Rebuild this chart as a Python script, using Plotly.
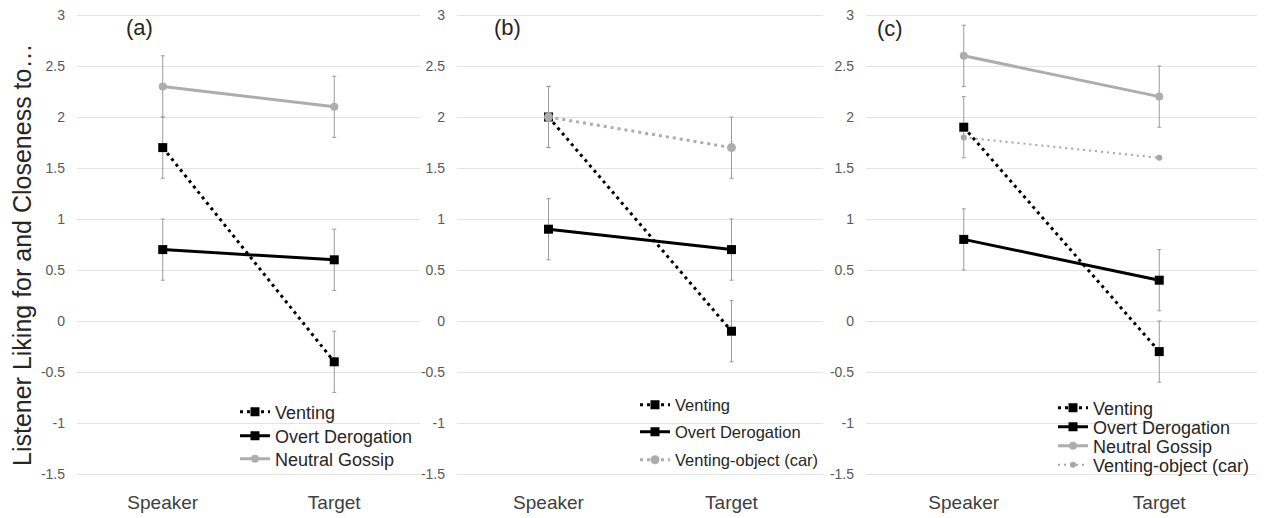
import plotly.graph_objects as go

W, H = 1265, 518
OFF = 8  # page body margin of the html page

categories = ["Speaker", "Target"]
ytick_vals = [-1.5, -1, -0.5, 0, 0.5, 1, 1.5, 2, 2.5, 3]
ytick_text = ["-1.5", "-1", "-0.5", "0", "0.5", "1", "1.5", "2", "2.5", "3"]

# Panel (a)
a_venting = [1.7, -0.4]
a_venting_err = [0.3, 0.3]
a_overt = [0.7, 0.6]
a_overt_err = [0.3, 0.3]
a_neutral = [2.3, 2.1]
a_neutral_err = [0.3, 0.3]

# Panel (b)
b_venting = [2.0, -0.1]
b_venting_err = [0.3, 0.3]
b_overt = [0.9, 0.7]
b_overt_err = [0.3, 0.3]
b_object = [2.0, 1.7]
b_object_err = [0.3, 0.3]

# Panel (c)
c_venting = [1.9, -0.3]
c_venting_err = [0.3, 0.3]
c_overt = [0.8, 0.4]
c_overt_err = [0.3, 0.3]
c_neutral = [2.6, 2.2]
c_neutral_err = [0.3, 0.3]
c_object = [1.8, 1.6]

panel_labels = ["(a)", "(b)", "(c)"]
y_title = "Listener Liking for and Closeness to…"

FONT = "Liberation Sans, Arial, sans-serif"
BLACK = "#000000"
GRAY = "#ADADAD"
ERR = "#9a9a9a"
TXT = "#262626"


def px_x(p):
    return (p - OFF) / W


def px_y(p):
    return 1 - (p - OFF) / H


# layout geometry (page pixels)
y_top_px, y_bot_px = 15, 474
yr = [-1.5, 3.0]
pad = 0.01
ppu = (y_bot_px - y_top_px) / (yr[1] - yr[0])
dom_y = [px_y(y_bot_px + pad * ppu), px_y(y_top_px - pad * ppu)]
x_px = [(77, 420), (457, 823), (866, 1257)]

fig = go.Figure()
legends = {}
leg_count = [0]


def err(vals):
    return dict(type="data", array=vals, visible=True, color=ERR, thickness=1, width=2)


def add(name, y, errs, axis, color, width, dash, symbol, msize, leg_x, leg_y, leg_size):
    leg_count[0] += 1
    lid = "legend" if leg_count[0] == 1 else "legend%d" % leg_count[0]
    legends[lid] = dict(x=px_x(leg_x - 40), y=px_y(leg_y), xanchor="left",
                        yanchor="middle", bgcolor="rgba(0,0,0,0)", itemwidth=30,
                        font=dict(size=leg_size, color=TXT, family=FONT))
    kw = {}
    if errs is not None:
        kw["error_y"] = err(errs)
    fig.add_trace(go.Scatter(
        x=categories, y=y, name=name, mode="lines+markers",
        line=dict(color=color, width=width, dash=dash),
        marker=dict(symbol=symbol, size=msize, color=color),
        xaxis="x" + axis, yaxis="y" + axis, legend=lid, showlegend=True, **kw))


DOT = "3px,4px"
# (a)
add("Venting", a_venting, a_venting_err, "", BLACK, 3, DOT, "square", 9, 275, 412, 18)
add("Overt Derogation", a_overt, a_overt_err, "", BLACK, 3, "solid", "square", 9, 275, 436, 18)
add("Neutral Gossip", a_neutral, a_neutral_err, "", GRAY, 3, "solid", "circle", 8, 275, 459, 18)
# (b)
add("Venting", b_venting, b_venting_err, "2", BLACK, 3, DOT, "square", 9, 675, 405, 16.5)
add("Overt Derogation", b_overt, b_overt_err, "2", BLACK, 3, "solid", "square", 9, 675, 432, 16.5)
add("Venting-object (car)", b_object, b_object_err, "2", GRAY, 3, DOT, "circle", 9, 675, 460, 16.5)
# (c)
add("Venting", c_venting, c_venting_err, "3", BLACK, 3, DOT, "square", 9, 1093, 408, 18)
add("Overt Derogation", c_overt, c_overt_err, "3", BLACK, 3, "solid", "square", 9, 1093, 427, 18)
add("Neutral Gossip", c_neutral, c_neutral_err, "3", GRAY, 3, "solid", "circle", 8, 1093, 446, 18)
add("Venting-object (car)", c_object, None, "3", "#A6A6A6", 2, "2px,4px", "circle", 6, 1093, 465, 18)

layout = dict(
    width=W, height=H, margin=dict(l=0, r=0, t=0, b=0, autoexpand=False),
    paper_bgcolor="white", plot_bgcolor="white",
    font=dict(family=FONT, color="#404040"),
    showlegend=True,
)
layout.update(legends)

for i, (x0, x1) in enumerate(x_px):
    s = "" if i == 0 else str(i + 1)
    layout["xaxis" + s] = dict(
        domain=[px_x(x0), px_x(x1)], anchor="y" + s, type="category",
        categoryorder="array", categoryarray=categories, automargin=False,
        range=[-0.5, 1.5], showgrid=False, showline=False, zeroline=False,
        ticks="", tickfont=dict(size=19, color="#404040", family=FONT),
        ticklabelstandoff=14, ticklabeloverflow="allow",
    )
    layout["yaxis" + s] = dict(
        domain=dom_y, anchor="x" + s, range=[yr[0] - pad, yr[1] + pad],
        tickvals=ytick_vals, ticktext=ytick_text, automargin=False,
        showgrid=True, gridcolor="#E3E3E3", gridwidth=1,
        zeroline=False, showline=False, ticks="",
        tickfont=dict(size=14, color="#595959", family=FONT),
        ticklabelstandoff=11, ticklabeloverflow="allow",
    )

ann = []
for lab, (px, py) in zip(panel_labels, [(139, 27), (507, 27), (890, 28)]):
    ann.append(dict(text=lab, x=px_x(px), y=px_y(py), xref="paper", yref="paper",
                    showarrow=False, xanchor="center", yanchor="middle",
                    font=dict(size=22, color=TXT, family=FONT)))
ann.append(dict(text=y_title, x=px_x(22), y=px_y(255), xref="paper", yref="paper",
                showarrow=False, xanchor="center", yanchor="middle", textangle=-90,
                font=dict(size=25, color=TXT, family=FONT)))
layout["annotations"] = ann

fig.update_layout(**layout)
fig.write_html("out.html")
